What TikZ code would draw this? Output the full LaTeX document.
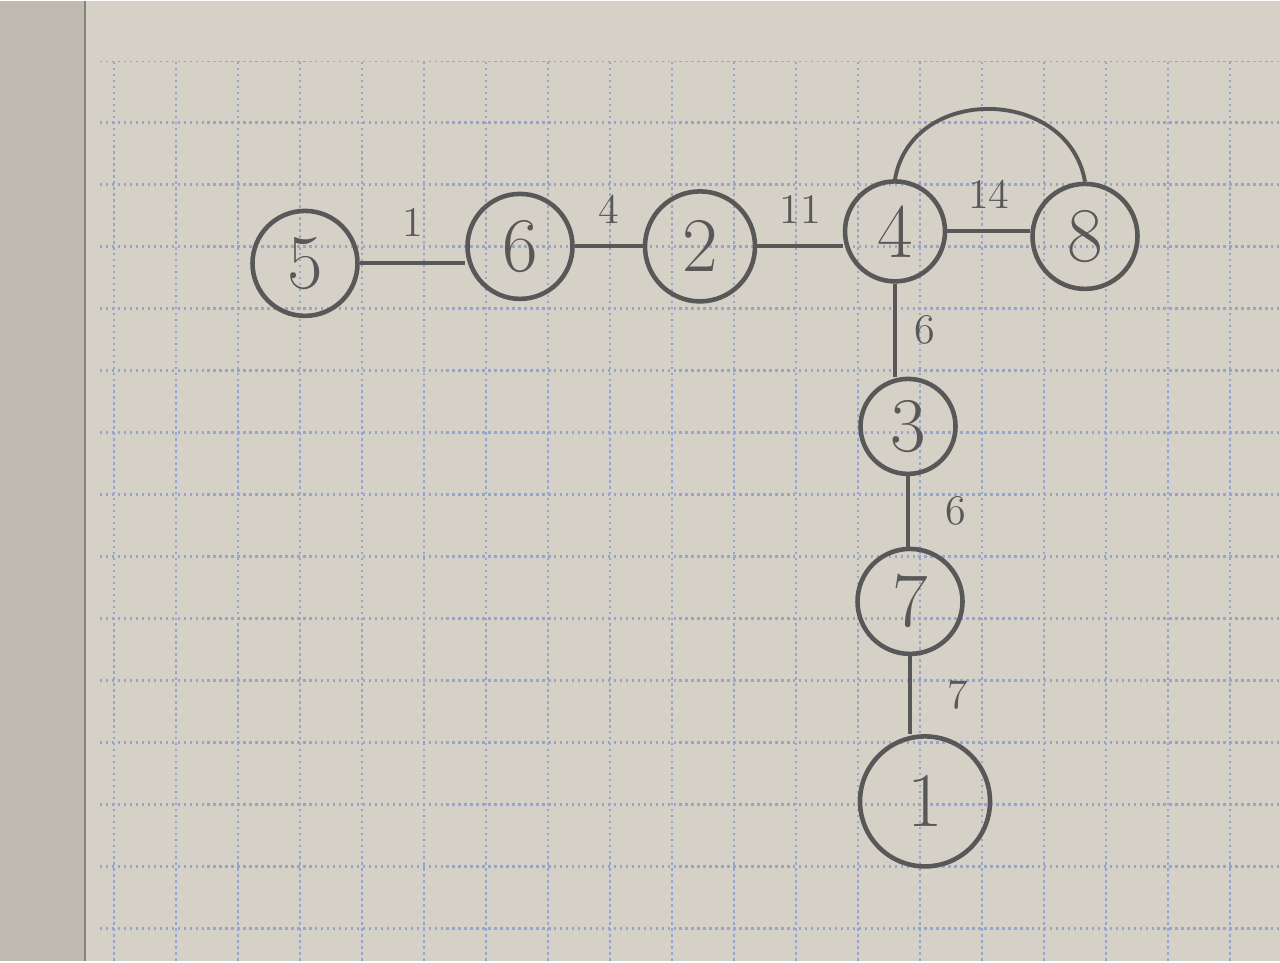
\documentclass[tikz,border=0pt]{standalone}
\usepackage{amsmath}

\definecolor{paper}{RGB}{214,209,199}
\definecolor{paperdark}{RGB}{190,185,177}
\definecolor{gridblue}{RGB}{150,165,205}
\definecolor{pencil}{RGB}{88,88,88}

\begin{document}
\begin{tikzpicture}[
    vert/.style={draw=pencil, circle, line width=1.3pt, minimum size=1.05cm,
                 inner sep=0pt, text=pencil, font=\fontsize{22}{24}\selectfont},
    link/.style={draw=pencil, line width=1.1pt},
    wlabel/.style={text=pencil, font=\fontsize{12}{14}\selectfont, inner sep=2pt}
  ]
  % Blatt
  \fill[paper] (0,0) rectangle (12.8,9.6);
  \fill[paperdark] (0,0) rectangle (0.85,9.6);
  \draw[paperdark!70!black, line width=0.8pt] (0.85,0) -- (0.85,9.6);
  \begin{scope}
    \clip (1.0,0) rectangle (12.8,9.0);
    \draw[gridblue, densely dotted, line width=0.7pt, shift={(0.52,0.33)}]
      (0.3,-0.62) grid[step=0.62] (12.4,8.7);
  \end{scope}
  % Knoten
  \node[vert] (v5) at (3.05,6.98) {5};
  \node[vert] (v6) at (5.20,7.15) {6};
  \node[vert, minimum size=1.1cm] (v2) at (7.00,7.15) {2};
  \node[vert, minimum size=1.0cm] (v4) at (8.95,7.30) {4};
  \node[vert] (v8) at (10.85,7.25) {8};
  \node[vert, minimum size=0.95cm] (v3) at (9.08,5.35) {3};
  \node[vert, minimum size=1.05cm] (v7) at (9.10,3.60) {7};
  \node[vert, minimum size=1.3cm] (v1) at (9.25,1.60) {1};
  % Kanten
  \draw[link] (v5.east) -- node[wlabel, above=5pt]{1} (v5.east -| v6.west);
  \draw[link] (v6.east) -- node[wlabel, above=4pt]{4} (v6.east -| v2.west);
  \draw[link] (v2.east) -- node[wlabel, above=4pt]{11} (v2.east -| v4.west);
  \draw[link] (v4.east) -- node[wlabel, above=4pt]{14} (v4.east -| v8.west);
  \draw[link] (v4.north) to[out=80, in=100, looseness=1.3] (v8.north);
  \draw[link] (v4.south) -- node[wlabel, right=3pt]{6} (v4.south |- v3.north);
  \draw[link] (v3.south) -- node[wlabel, right=8pt]{6} (v3.south |- v7.north);
  \draw[link] (v7.south) -- node[wlabel, right=8pt]{7} (v7.south |- v1.north);
  \useasboundingbox (0,0) rectangle (12.8,9.6);
\end{tikzpicture}
\end{document}
